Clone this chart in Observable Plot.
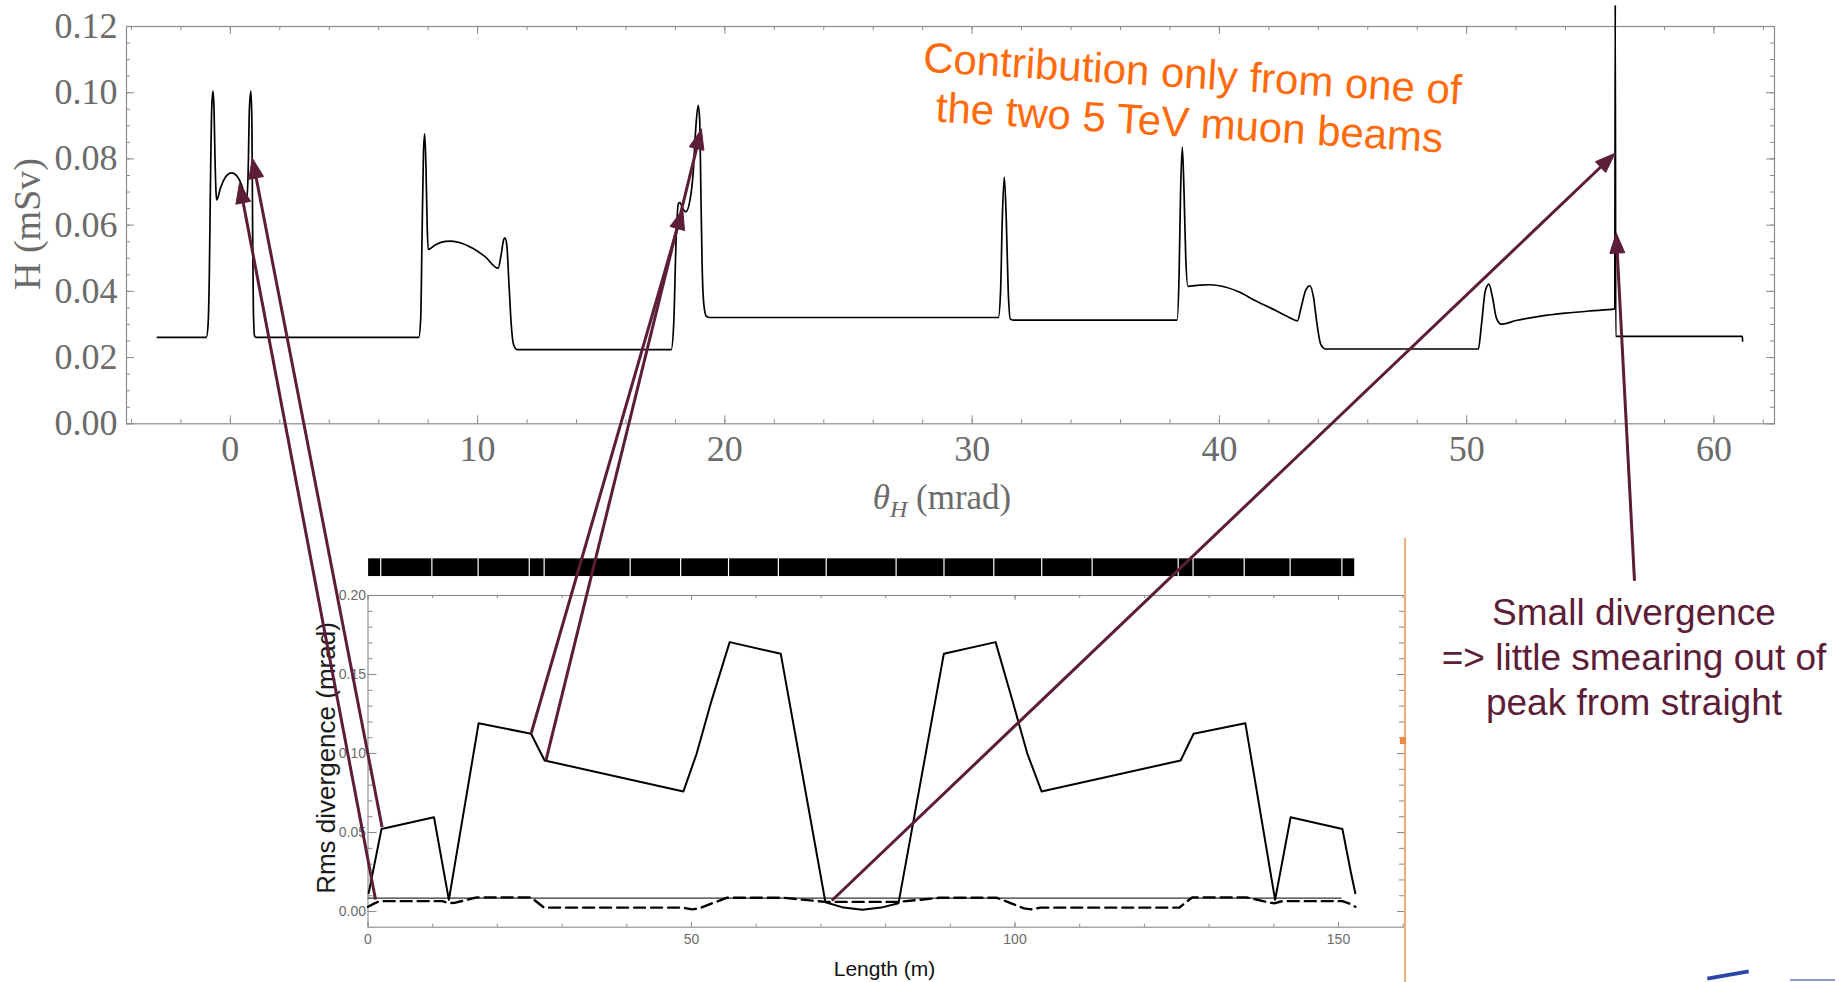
<!DOCTYPE html>
<html><head><meta charset="utf-8">
<script src="https://cdn.jsdelivr.net/npm/d3@7"></script>
<script src="https://cdn.jsdelivr.net/npm/@observablehq/plot@0.6"></script>
<style>
html,body{margin:0;padding:0;background:#fff;overflow:hidden;}
#page{position:relative;width:1842px;height:982px;overflow:hidden;background:#fff;}
#page > svg, #page > div{position:absolute;}
</style></head><body><div id="page"></div>
<script>
// ---------- Top chart data: H (mSv) vs theta_H (mrad) ----------
const hX = [-2.95,-0.97,-0.90,-0.85,-0.80,-0.75,-0.70,-0.66,-0.62,-0.58,-0.55,-0.40,-0.20,0.05,0.30,0.50,0.66,0.72,0.77,0.83,0.87,0.90,0.93,0.98,1.05,
  7.62,7.70,7.75,7.81,7.86,7.91,7.96,8.00,8.30,8.70,8.93,9.30,9.80,10.30,10.83,10.95,11.05,11.10,11.18,11.27,11.36,11.45,11.60,
  17.83,17.93,18.03,18.12,18.18,18.30,18.42,18.60,18.72,18.82,18.92,18.98,19.03,19.08,19.15,19.25,19.40,
  31.06,31.15,31.22,31.30,31.38,31.46,31.55,31.70,
  38.29,38.37,38.43,38.50,38.57,38.64,38.73,39.20,39.60,40.00,40.80,41.40,42.20,42.80,43.16,43.30,43.50,43.66,43.80,43.95,44.10,44.30,
  50.47,50.60,50.75,50.90,51.05,51.20,51.40,52.00,53.00,54.00,55.00,55.99,56.01,56.03,61.15,61.16];
const hY = [0.0261,0.0261,0.0300,0.0450,0.0750,0.0960,0.1005,0.0950,0.0800,0.0700,0.0676,0.0712,0.0745,0.0758,0.0745,0.0712,0.0673,0.0760,0.0950,0.1005,0.0920,0.0600,0.0350,0.0265,0.0261,
  0.0261,0.0320,0.0550,0.0820,0.0876,0.0780,0.0600,0.0527,0.0541,0.0551,0.0552,0.0547,0.0530,0.0505,0.0470,0.0510,0.0555,0.0562,0.0540,0.0420,0.0300,0.0240,0.0224,
  0.0224,0.0300,0.0560,0.0665,0.0668,0.0650,0.0640,0.0680,0.0760,0.0890,0.0962,0.0920,0.0700,0.0480,0.0360,0.0325,0.0321,
  0.0321,0.0400,0.0620,0.0745,0.0620,0.0400,0.0316,0.0313,
  0.0313,0.0450,0.0700,0.0836,0.0700,0.0500,0.0415,0.0419,0.0420,0.0417,0.0398,0.0374,0.0345,0.0322,0.0311,0.0350,0.0405,0.0417,0.0385,0.0300,0.0240,0.0226,
  0.0226,0.0300,0.0400,0.0422,0.0380,0.0320,0.0301,0.0312,0.0325,0.0334,0.0341,0.0347,0.1265,0.0264,0.0264,0.0250];
const hXTicks = [0, 10, 20, 30, 40, 50, 60];
const hYTicks = [0, 0.02, 0.04, 0.06, 0.08, 0.10, 0.12];

// ---------- Bottom chart data: Rms divergence (mrad) vs Length (m) ----------
const divX = [0.10,2.09,10.2,12.5,17.1,25.2,27.3,48.75,50.8,53.1,55.9,63.8,70.7,73.5,76.4,79.3,82.0,89.0,97.0,99.6,101.9,104.1,125.6,127.6,135.6,140.2,142.6,150.6,151.9,152.6];
const divY = [0.0116,0.0523,0.0597,0.0074,0.1192,0.1125,0.0956,0.0760,0.1000,0.1335,0.1705,0.1631,0.0059,0.0025,0.0011,0.0025,0.0053,0.1631,0.1705,0.1335,0.1000,0.0760,0.0956,0.1125,0.1192,0.0074,0.0597,0.0523,0.0250,0.0116];
const dashX = [0.0,1.0,1.8,11.5,12.5,13.5,16.8,25.2,27.2,48.6,50.1,51.2,55.4,64.3,70.7,82.0,88.3,97.2,101.4,102.5,104.0,125.4,127.4,135.8,139.5,140.2,141.3,150.6,151.6,152.6];
const dashY = [0.0030,0.0052,0.0066,0.0066,0.0053,0.0056,0.0090,0.0090,0.0025,0.0025,0.0014,0.0020,0.0087,0.0087,0.0061,0.0061,0.0087,0.0087,0.0020,0.0014,0.0025,0.0025,0.0090,0.0090,0.0055,0.0053,0.0066,0.0066,0.0052,0.0030];
const refX = [0, 150.4];
const refY = [0.0085, 0.0085];
const magnetEdges = [0,2.04,9.95,17.1,25.0,27.3,40.6,48.4,55.8,63.5,70.9,81.7,89.1,96.8,104.2,112.0,125.3,127.6,135.5,142.6,150.6,152.6];
const divXTicks = [0, 50, 100, 150];
const divYTicks = [0, 0.05, 0.10, 0.15, 0.20];

// ---------- Annotation arrows (tips in top chart data, tails in bottom chart data) ----------
const tipMrad = [0.37, 0.89, 18.3, 19.05, 56.0, 56.05];
const tipMSv  = [0.0727, 0.0802, 0.0648, 0.0890, 0.0817, 0.0576];
const tailM    = [1.16, 2.18, 25.2, 27.5, 71.7];
const tailMrad = [0.0076, 0.0534, 0.1125, 0.0956, 0.0070];

const maroon = "#5c1d38";
const page = document.getElementById("page");
function put(el, left, top) { el.style.left = left + "px"; el.style.top = top + "px"; page.appendChild(el); return el; }
function div(html, css) { const d = document.createElement("div"); d.innerHTML = html; d.style.cssText = "position:absolute;white-space:nowrap;" + css; page.appendChild(d); return d; }

// ---------- Top chart ----------
const TW = 1842, TH = 530, TL = 126, TR = 1774, TT = 26, TB = 423.3;
const tIW = TR - TL, tIH = TB - TT;
const hPts = hX.map((x, i) => ({x, y: hY[i]}));
const hXMinor = d3.range(-4, 63, 2);
const hYMinor = d3.range(0, 0.1201, 0.005);
const gray = "#8c8c8c";
const topPlot = Plot.plot({
  width: TW, height: TH,
  marginLeft: TL, marginRight: TW - TR, marginTop: TT, marginBottom: TH - TB,
  x: {domain: [-4.2, 62.45]},
  y: {domain: [0, 0.12]},
  style: {fontFamily: "'Liberation Serif','DejaVu Serif',serif", fontSize: "36px", color: "#6b6b6b", background: "transparent", overflow: "visible"},
  marks: [
    Plot.frame({stroke: gray, strokeWidth: 1.2}),
    Plot.ruleX(hXMinor, {insetTop: tIH - 4, stroke: gray}),
    Plot.ruleX(hXMinor, {insetBottom: tIH - 4, stroke: gray}),
    Plot.ruleX(hXTicks, {insetTop: tIH - 8, stroke: gray}),
    Plot.ruleX(hXTicks, {insetBottom: tIH - 8, stroke: gray}),
    Plot.ruleY(hYMinor, {insetRight: tIW - 4, stroke: gray}),
    Plot.ruleY(hYMinor, {insetLeft: tIW - 4, stroke: gray}),
    Plot.ruleY(hYTicks, {insetRight: tIW - 8, stroke: gray}),
    Plot.ruleY(hYTicks, {insetLeft: tIW - 8, stroke: gray}),
    Plot.axisX({ticks: hXTicks, tickSize: 0, tickPadding: 12, label: null, tickFormat: d => String(d)}),
    Plot.axisY({ticks: hYTicks, tickSize: 0, tickPadding: 9, label: null, tickFormat: d => d.toFixed(2)}),
    Plot.line(hPts, {x: "x", y: "y", stroke: "#000", strokeWidth: 1.7, curve: "monotone-x"})
  ]
});
put(topPlot, 0, 0);

// top axis labels
div("H (mSv)", "font-family:'Liberation Serif',serif;font-size:38px;color:#6b6b6b;line-height:38px;left:27px;top:224px;transform:translate(-50%,-50%) rotate(-90deg);");
div("<i>θ</i><sub style='font-size:24px;vertical-align:-8px'><i>H</i></sub> (mrad)", "font-family:'Liberation Serif',serif;font-size:35px;color:#6b6b6b;line-height:35px;left:942px;top:480px;transform:translateX(-50%);");

// ---------- Bottom chart ----------
const BW = 1842, BH = 442, BTop = 540, BL = 367.5, BR = 1404, BT = 595 - BTop, BB = 926.7 - BTop;
const bIW = BR - BL, bIH = BB - BT;
const divPts = divX.map((x, i) => ({x, y: divY[i]}));
const dashPts = dashX.map((x, i) => ({x, y: dashY[i]}));
const refPts = refX.map((x, i) => ({x, y: refY[i]}));
const magnets = magnetEdges.slice(1).map((e, i) => ({x1: magnetEdges[i], x2: e}));
const bXMinor = d3.range(0, 161, 10);
const bYMinor = d3.range(0, 0.2001, 0.01);
const bgray = "#8a8a8a";
const botPlot = Plot.plot({
  width: BW, height: BH,
  marginLeft: BL, marginRight: BW - BR, marginTop: BT, marginBottom: BH - BB,
  x: {domain: [0, 160.2]},
  y: {domain: [-0.0099, 0.20]},
  style: {fontFamily: "'Liberation Sans',Arial,sans-serif", fontSize: "14px", color: "#6b6b6b", background: "transparent", overflow: "visible"},
  marks: [
    Plot.frame({stroke: bgray, strokeWidth: 1.1}),
    Plot.ruleX(bXMinor, {insetTop: bIH - 3, stroke: bgray}),
    Plot.ruleX(bXMinor, {insetBottom: bIH - 3, stroke: bgray}),
    Plot.ruleX(divXTicks, {insetTop: bIH - 5, stroke: bgray}),
    Plot.ruleX(divXTicks, {insetBottom: bIH - 5, stroke: bgray}),
    Plot.ruleY(bYMinor, {insetRight: bIW - 5, stroke: bgray}),
    Plot.ruleY(bYMinor, {insetLeft: bIW - 5, stroke: bgray}),
    Plot.ruleY(divYTicks, {insetRight: bIW - 9, stroke: bgray}),
    Plot.ruleY(divYTicks, {insetLeft: bIW - 7, stroke: bgray}),
    Plot.axisX({ticks: divXTicks, tickSize: 0, tickPadding: 7, label: null, tickFormat: d => String(d)}),
    Plot.axisY({ticks: divYTicks, tickSize: 0, tickPadding: 2, label: null, tickFormat: d => d.toFixed(2)}),
    Plot.rect(magnets, {x1: "x1", x2: "x2", y1: 0.212, y2: 0.2232, fill: "#000", insetLeft: 0.6, insetRight: 0.6}),
    Plot.line(refPts, {x: "x", y: "y", stroke: "#333", strokeWidth: 1.3}),
    Plot.line(dashPts, {x: "x", y: "y", stroke: "#000", strokeWidth: 2.4, strokeDasharray: "11,6"}),
    Plot.line(divPts, {x: "x", y: "y", stroke: "#000", strokeWidth: 2})
  ]
});
put(botPlot, 0, BTop);

div("Rms divergence (mrad)", "font-family:'Liberation Sans',Arial,sans-serif;font-size:26px;color:#1a1a1a;line-height:26px;left:326px;top:758px;transform:translate(-50%,-50%) rotate(-90deg);");
div("Length (m)", "font-family:'Liberation Sans',Arial,sans-serif;font-size:21px;color:#111;line-height:21px;left:884.5px;top:967.7px;transform:translate(-50%,-50%);");

// ---------- Decorations and notes ----------
div("", "left:1404px;top:538px;width:1.5px;height:444px;background:#f4ae78;");
div("", "left:1400px;top:737px;width:6px;height:7px;background:#f08a3c;");
div("", "left:1707px;top:973px;width:42px;height:4px;background:#2846a8;transform:rotate(-10deg);");
div("", "left:1790px;top:979px;width:45px;height:2px;background:#8a9ad0;");
div("Contribution only from one of<br>the two 5 TeV muon beams",
  "font-family:'Liberation Sans',Arial,sans-serif;font-size:42px;line-height:49px;color:#ff6a0a;text-align:center;left:1190.5px;top:98px;transform:translate(-50%,-50%) rotate(3.5deg);");
const note = div("Small divergence<br>=&gt; little smearing out of<br>peak from straight",
  "font-family:'Liberation Sans',Arial,sans-serif;font-size:37px;line-height:45px;color:" + maroon + ";text-align:center;left:1634px;top:590.3px;transform:translateX(-50%);");

// ---------- Overlay arrows ----------
const tx = topPlot.scale("x"), ty = topPlot.scale("y");
const bx = botPlot.scale("x"), by = botPlot.scale("y");
const nr = note.getBoundingClientRect();
const arrows = tipMrad.map((m, i) => {
  const x2 = tx.apply(m), y2 = ty.apply(tipMSv[i]);
  let x1, y1;
  if (i < tailM.length) { x1 = bx.apply(tailM[i]); y1 = by.apply(tailMrad[i]) + BTop; }
  else { x1 = nr.left + nr.width / 2; y1 = nr.top - 10; }
  return {id: i, x1, y1, x2, y2};
});
const L = 20, W = 7.5;
const shafts = [], heads = [];
for (const a of arrows) {
  const dx = a.x2 - a.x1, dy = a.y2 - a.y1, len = Math.hypot(dx, dy);
  const ux = dx / len, uy = dy / len, nx = -uy, ny = ux;
  shafts.push({x1: a.x1, y1: a.y1, x2: a.x2 - ux * L * 0.7, y2: a.y2 - uy * L * 0.7});
  const bxp = a.x2 - ux * L, byp = a.y2 - uy * L;
  heads.push({id: a.id, x: a.x2, y: a.y2});
  heads.push({id: a.id, x: bxp + nx * W, y: byp + ny * W});
  heads.push({id: a.id, x: bxp - nx * W, y: byp - ny * W});
  heads.push({id: a.id, x: a.x2, y: a.y2});
}
const overlay = Plot.plot({
  width: 1842, height: 982, margin: 0,
  x: {type: "identity", axis: null}, y: {type: "identity", axis: null},
  style: {background: "transparent", overflow: "visible", pointerEvents: "none"},
  marks: [
    Plot.link(shafts, {x1: "x1", y1: "y1", x2: "x2", y2: "y2", stroke: maroon, strokeWidth: 3}),
    Plot.line(heads, {x: "x", y: "y", z: "id", fill: maroon, stroke: maroon, strokeWidth: 1, strokeLinejoin: "miter"})
  ]
});
put(overlay, 0, 0);
</script></body></html>
